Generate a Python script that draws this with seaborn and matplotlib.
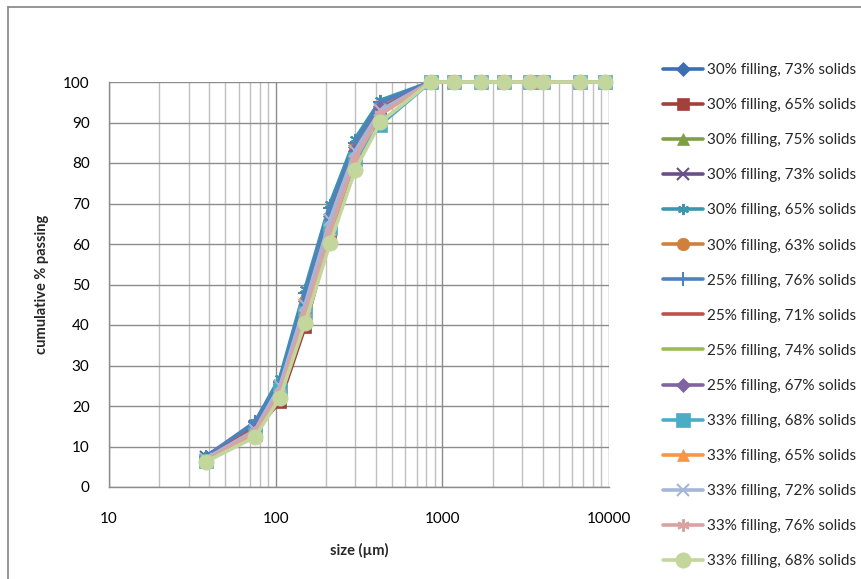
import matplotlib
matplotlib.use("Agg")
import matplotlib.pyplot as plt
from matplotlib.lines import Line2D
from matplotlib.ticker import LogLocator, NullFormatter
import seaborn as sns

sns.set_theme(style="white")
plt.rcParams['font.family'] = ['Lato', 'DejaVu Sans']

sizes = [38, 75, 106, 150, 212, 300, 425, 850, 1180, 1700, 2360, 3350, 4000, 6700, 9500]
tail = [100, 100, 100, 100, 100, 100, 100]

labels = [
    "30% filling, 73% solids", "30% filling, 65% solids", "30% filling, 75% solids",
    "30% filling, 73% solids", "30% filling, 65% solids", "30% filling, 63% solids",
    "25% filling, 76% solids", "25% filling, 71% solids", "25% filling, 74% solids",
    "25% filling, 67% solids", "33% filling, 68% solids", "33% filling, 65% solids",
    "33% filling, 72% solids", "33% filling, 76% solids", "33% filling, 68% solids",
]

s01 = [7.5, 15.5, 25, 46, 67, 84, 94, 100] + tail
s02 = [7, 14, 21, 39.5, 62, 81, 93, 100] + tail
s03 = [7, 14.5, 24, 44, 65, 83, 93.5, 100] + tail
s04 = [7.5, 15, 25, 45, 66, 83, 93.5, 100] + tail
s05 = [7, 16, 27, 49, 70, 86, 95.5, 100] + tail
s06 = [7, 14.5, 25, 46, 66, 84, 94, 100] + tail
s07 = [7.5, 16, 26, 48, 69, 85, 95, 100] + tail
s08 = [7, 14.5, 23, 43, 64, 82, 93, 100] + tail
s09 = [6.5, 13.5, 23, 43, 64, 82, 93, 100] + tail
s10 = [7, 14, 24, 44, 65, 83, 93.5, 100] + tail
s11 = [6.5, 13, 24, 43, 64, 81, 89.5, 100] + tail
s12 = [6.5, 13, 24, 44, 65, 82, 92, 100] + tail
s13 = [7, 14, 25, 45, 66, 83, 93, 100] + tail
s14 = [6.5, 13.5, 23.5, 43, 63, 81, 92, 100] + tail
s15 = [6.2, 12.3, 22, 40.5, 60.2, 78.3, 90.1, 100] + tail
series = [s01, s02, s03, s04, s05, s06, s07, s08, s09, s10, s11, s12, s13, s14, s15]

colors = ["#3D6FB0", "#A0413C", "#7F9F45", "#6A5088", "#3A97AE", "#D0803A",
          "#4F81BD", "#C0504D", "#9BBB59", "#8064A2", "#4BACC6", "#F79646",
          "#A5B6D9", "#D9A3A2", "#C3D69B"]
ast = (6, 2, 0)
markers = ["D", "s", "^", "x", ast, "o", "+", None, None, "D", "s", "^", "x", ast, "o"]
msizes = [7, 9, 8, 8, 8, 9, 10, 0, 0, 7, 10, 9, 9, 9, 11]

fig = plt.figure(figsize=(8.62, 5.79), dpi=100)
W, H = 862, 579
ax = fig.add_axes([109 / W, 1 - 487 / H, (609 - 109) / W, (487 - 82) / H])

for vals, c, m, ms, lab in zip(series, colors, markers, msizes, labels):
    kw = dict(color=c, linewidth=2.6, label=lab, ax=ax, sort=False, clip_on=False)
    if m is not None:
        kw.update(marker=m, markersize=ms, markerfacecolor=c, markeredgecolor=c,
                  markeredgewidth=1.5 if m in ("x", "+", ast) else 0.5)
    sns.lineplot(x=sizes, y=vals, **kw)

ax.set_xscale("log")
ax.set_xlim(10, 10000)
ax.set_ylim(0, 100)
ax.set_yticks(range(0, 101, 10))
ax.set_xticks([10, 100, 1000, 10000])
ax.set_xticklabels(["10", "100", "1000", "10000"])
ax.xaxis.set_minor_locator(LogLocator(base=10, subs=range(2, 10), numticks=20))
ax.xaxis.set_minor_formatter(NullFormatter())
ax.grid(True, which="major", axis="both", color="#8C8C8C", linewidth=1.0)
ax.grid(True, which="minor", axis="x", color="#BFBFBF", linewidth=1.0)
ax.set_axisbelow(True)
for sp in ["top", "right"]:
    ax.spines[sp].set_visible(False)
for sp in ["left", "bottom"]:
    ax.spines[sp].set_color("#8C8C8C")
    ax.spines[sp].set_linewidth(1.0)
ax.tick_params(axis="both", which="both", length=0, labelsize=11, colors="#000000")
ax.tick_params(axis="x", pad=18)
ax.tick_params(axis="y", pad=14)
ax.set_xlabel("size (\u00b5m)", fontsize=10.5, fontweight="bold", labelpad=12)
ax.set_ylabel("cumulative % passing", fontsize=10.5, fontweight="bold", labelpad=10)

handles, labs = ax.get_legend_handles_labels()
if ax.get_legend():
    ax.get_legend().remove()
fig.legend(handles, labs, loc="upper left", bbox_to_anchor=(657 / W, 1 - 57 / H),
           frameon=False, fontsize=11, handlelength=2.6, handletextpad=0.25,
           labelspacing=1.38, borderaxespad=0)

fig.add_artist(Line2D([8 / W, 8 / W], [0, 1 - 7 / H], transform=fig.transFigure,
                      color="#8C8C8C", linewidth=1.3))
fig.add_artist(Line2D([8 / W, 1], [1 - 7 / H, 1 - 7 / H], transform=fig.transFigure,
                      color="#8C8C8C", linewidth=1.3))

fig.savefig("out.png", dpi=100)
